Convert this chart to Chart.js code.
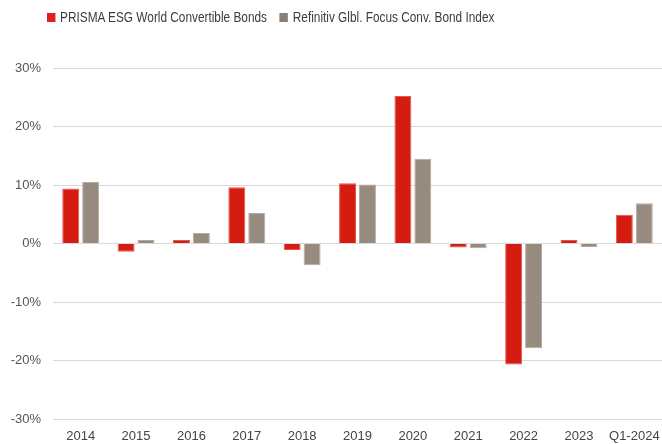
<!DOCTYPE html>
<html>
<head>
<meta charset="utf-8">
<script src="https://cdn.jsdelivr.net/npm/chart.js@4/dist/chart.umd.min.js"></script>
<style>
  html, body { margin:0; padding:0; background:#fff; }
  #wrap { position:relative; width:662px; height:444px; }
  /* legend text is a condensed face, so squeeze the regular sans */
  #legend { position:absolute; left:47px; top:9px; display:flex; gap:15px;
    transform:scaleX(0.845); transform-origin:0 0;
    font-family:"Liberation Sans", Arial, sans-serif; font-size:14px; color:#3c3c3c; }
  #legend span.item { display:flex; align-items:center; }
  #legend i { display:inline-block; width:9.5px; height:9px; margin-right:6px; }
  canvas { display:block; }
</style>
</head>
<body>
<div id="wrap">
  <div id="legend"></div>
  <canvas id="chart" width="662" height="444"></canvas>
</div>
<script>
const categories = ["2014","2015","2016","2017","2018","2019","2020","2021","2022","2023","Q1-2024"];
const prismaReturns = [9.4, -1.4, 0.6, 9.6, -1.1, 10.3, 25.2, -0.7, -20.7, 0.6, 4.9];
const refinitivReturns = [10.5, 0.6, 1.8, 5.2, -3.7, 10.1, 14.5, -0.8, -17.9, -0.6, 6.9];
const yTicks = [-30, -20, -10, 0, 10, 20, 30];

const seriesInfo = [
  { label:"PRISMA ESG World Convertible Bonds", data:prismaReturns, fill:"#d41c10", edge:"#e2584e", key:"#e02020" },
  { label:"Refinitiv Glbl. Focus Conv. Bond Index", data:refinitivReturns, fill:"#978b80", edge:"#b3aaa1", key:"#8a7f76" }
];

// legend
document.getElementById("legend").innerHTML = seriesInfo.map(s =>
  `<span class="item"><i style="background:${s.key}"></i>${s.label}</span>`).join("");

const font = { family:"'Liberation Sans', Arial, sans-serif", size:13 };

new Chart(document.getElementById("chart"), {
  type:"bar",
  data:{
    labels:categories,
    datasets:seriesInfo.map(s => ({
      label:s.label,
      data:s.data,
      backgroundColor:s.fill,
      borderColor:s.edge,
      borderWidth:1,
      barPercentage:0.85,
      categoryPercentage:0.72
    }))
  },
  options:{
    responsive:false,
    animation:false,
    layout:{ padding:{ top:68, right:0, left:0, bottom:0 } },
    plugins:{ legend:{ display:false }, tooltip:{ enabled:false } },
    scales:{
      x:{
        afterFit:axis => { axis.height = 25; },
        grid:{ display:false },
        border:{ display:false },
        ticks:{ color:"#444", font, padding:2, maxRotation:0 }
      },
      y:{
        min:-30, max:30,
        afterBuildTicks:axis => { axis.ticks = yTicks.map(v => ({ value:v })); },
        afterFit:axis => { axis.width = 53; },
        grid:{ color:"#d9d9d9", lineWidth:1, drawTicks:false },
        border:{ display:false },
        ticks:{ color:"#555", font, padding:12, callback:v => v + "%" }
      }
    }
  }
});
</script>
</body>
</html>
